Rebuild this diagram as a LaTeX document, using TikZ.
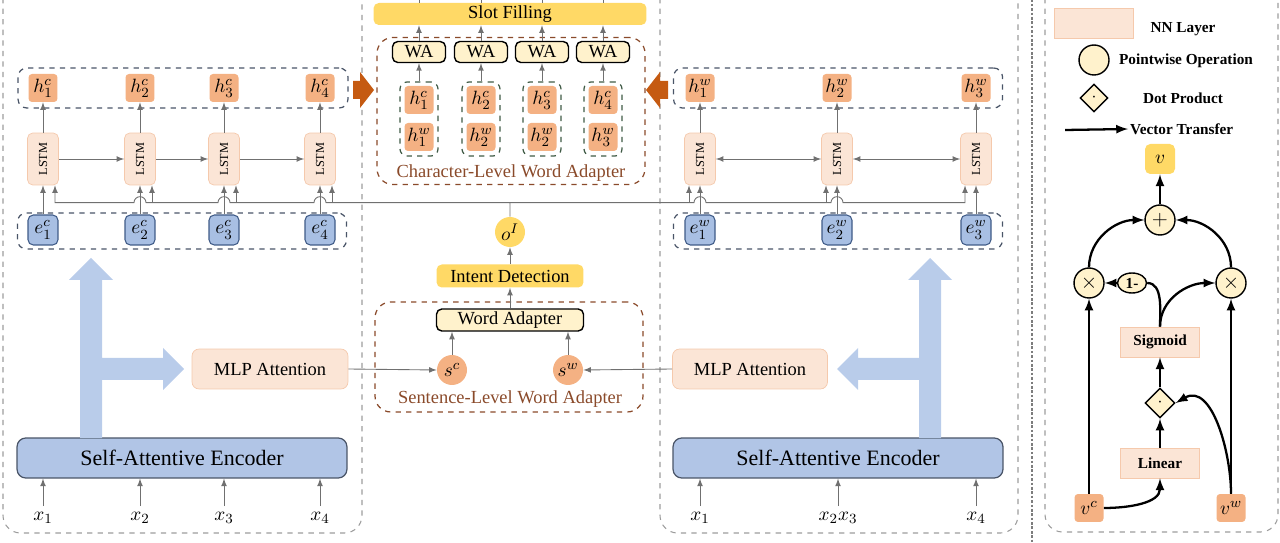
\documentclass[tikz,border=0pt]{standalone}
\usepackage{fontspec}
\setmainfont{Liberation Serif}
\usepackage{amsmath}
\usepackage{graphicx}
\usepackage{tikz}
\usetikzlibrary{calc}
\usetikzlibrary{arrows}
\usetikzlibrary{shapes}
\usetikzlibrary{shapes.geometric}

\definecolor{hfill}{HTML}{F4B183}
\definecolor{nnfill}{HTML}{FBE5D6}
\definecolor{nnline}{HTML}{F5C9AC}
\definecolor{efill}{HTML}{A8BFE3}
\definecolor{eline}{HTML}{3F5B87}
\definecolor{encfill}{HTML}{B1C5E6}
\definecolor{bigblue}{HTML}{B9CCEA}
\definecolor{gold}{HTML}{FFD966}
\definecolor{cream}{HTML}{FFF2CC}
\definecolor{rust}{HTML}{C55A11}
\definecolor{adbrown}{HTML}{8A4A2A}
\definecolor{slate}{HTML}{4A5568}
\definecolor{moss}{HTML}{3F5A45}
\definecolor{panel}{HTML}{9C9C9C}
\definecolor{wire}{HTML}{707070}

\newcommand{\txtfont}{\fontsize{10.5}{12}\selectfont}
\newcommand{\encfont}{\fontsize{12.5}{14}\selectfont}
\newcommand{\lgfont}{\bfseries\fontsize{8.7}{10}\selectfont}
\newcommand{\lstmfont}{\fontsize{7}{7}\selectfont}
\newcommand{\symfont}{\fontsize{11}{11}\selectfont}

\tikzset{
  hbox/.style={rectangle, rounded corners=2pt, fill=hfill, inner sep=0pt,
    minimum width=0.58cm, minimum height=0.56cm, font=\symfont},
  ebox/.style={rectangle, rounded corners=3pt, fill=efill, draw=eline, line width=0.6pt,
    inner sep=0pt, minimum width=0.6cm, minimum height=0.6cm, font=\symfont},
  lstm/.style={rectangle, rounded corners=3pt, fill=nnfill, draw=nnline, inner sep=0pt,
    minimum width=0.62cm, minimum height=1.04cm},
  nnbox/.style={rectangle, rounded corners=4pt, fill=nnfill, draw=nnline, inner sep=0pt},
  goldbox/.style={rectangle, rounded corners=3pt, fill=gold, inner sep=0pt},
  wabox/.style={rectangle, rounded corners=3pt, fill=cream, draw=black, line width=0.8pt,
    inner sep=0pt, font=\txtfont},
  encbox/.style={rectangle, rounded corners=5pt, fill=encfill, draw=slate, line width=0.7pt,
    minimum width=6.6cm, minimum height=0.8cm, font=\encfont},
  rowbox/.style={rectangle, rounded corners=5pt, dashed, draw=slate, line width=0.7pt},
  grp/.style={rectangle, rounded corners=4pt, dashed, draw=moss, line width=0.7pt,
    minimum width=0.76cm, minimum height=1.48cm},
  adbox/.style={rectangle, rounded corners=9pt, dashed, draw=adbrown, line width=0.7pt},
  opcircle/.style={circle, fill=cream, draw=black, line width=0.8pt, inner sep=0pt,
    minimum size=0.6cm},
  dotdiamond/.style={diamond, aspect=1, fill=cream, draw=black, line width=0.8pt,
    inner sep=0pt, minimum width=0.6cm, minimum height=0.6cm},
  lgtext/.style={font=\lgfont, inner sep=1pt},
  wireline/.style={draw=wire, line width=0.5pt},
  gatearrow/.style={-latex, line width=1.3pt},
}

\begin{document}
\begin{tikzpicture}[x=0.02cm, y=-0.02cm]
\useasboundingbox (0,0) rectangle (1280,543);

% panels
\draw [panel, dashed, line width=0.6pt, rounded corners=10pt] (3,-30) rectangle (362,533);
\draw [panel, dashed, line width=0.6pt, rounded corners=10pt] (660,-30) rectangle (1018,533);
\draw [panel, dashed, line width=0.6pt, rounded corners=10pt] (1045,-30) rectangle (1278,532);
\draw [panel!80!black, densely dotted, line width=1.5pt] (1032,-5) -- (1032,548);

% character side
\node [rowbox, minimum width=6.6cm, minimum height=0.8cm] (hcrow) at (183,88) {};
\node [rowbox, minimum width=6.58cm, minimum height=0.72cm] (ecrow) at (182,231) {};
\node [hbox] (hc1) at (43,88) {$h^{c}_{1}$};
\node [hbox] (hc2) at (140,88) {$h^{c}_{2}$};
\node [hbox] (hc3) at (224,88) {$h^{c}_{3}$};
\node [hbox] (hc4) at (320,88) {$h^{c}_{4}$};
\node [lstm] (lc1) at (43,159) {\rotatebox{90}{\lstmfont LSTM}};
\node [lstm] (lc2) at (140,159) {\rotatebox{90}{\lstmfont LSTM}};
\node [lstm] (lc3) at (224,159) {\rotatebox{90}{\lstmfont LSTM}};
\node [lstm] (lc4) at (320,159) {\rotatebox{90}{\lstmfont LSTM}};
\node [ebox] (ec1) at (43,230) {$e^{c}_{1}$};
\node [ebox] (ec2) at (140,230) {$e^{c}_{2}$};
\node [ebox] (ec3) at (224,230) {$e^{c}_{3}$};
\node [ebox] (ec4) at (320,230) {$e^{c}_{4}$};
\node [nnbox, minimum width=3.12cm, minimum height=0.8cm, font=\txtfont] (mlpc) at (270,369) {MLP Attention};
\node [encbox] (encc) at (182,458) {Self-Attentive Encoder};
\node [font=\symfont] (xc1) at (43,518) {$x_{1}$};
\node [font=\symfont] (xc2) at (140,518) {$x_{2}$};
\node [font=\symfont] (xc3) at (224,518) {$x_{3}$};
\node [font=\symfont] (xc4) at (320,518) {$x_{4}$};
\fill [bigblue] (80,438) -- (80,280) -- (69,280) -- (91,258) -- (113,280) -- (102,280)
  -- (102,358) -- (163,358) -- (163,348) -- (184,369) -- (163,390) -- (163,380)
  -- (102,380) -- (102,438) -- cycle;
\fill [rust] (353,81) -- (360,81) -- (360,72) -- (374,90) -- (360,108) -- (360,99) -- (353,99) -- cycle;

% word side
\node [rowbox, minimum width=6.58cm, minimum height=0.8cm] (hwrow) at (838,88) {};
\node [rowbox, minimum width=6.58cm, minimum height=0.72cm] (ewrow) at (838,231) {};
\node [hbox] (hw1) at (700,88) {$h^{w}_{1}$};
\node [hbox] (hw2) at (837,88) {$h^{w}_{2}$};
\node [hbox] (hw3) at (976,88) {$h^{w}_{3}$};
\node [lstm] (lw1) at (700,159) {\rotatebox{90}{\lstmfont LSTM}};
\node [lstm] (lw2) at (837,159) {\rotatebox{90}{\lstmfont LSTM}};
\node [lstm] (lw3) at (976,159) {\rotatebox{90}{\lstmfont LSTM}};
\node [ebox] (ew1) at (700,230) {$e^{w}_{1}$};
\node [ebox] (ew2) at (837,230) {$e^{w}_{2}$};
\node [ebox] (ew3) at (976,230) {$e^{w}_{3}$};
\node [nnbox, minimum width=3.1cm, minimum height=0.8cm, font=\txtfont] (mlpw) at (750,369) {MLP Attention};
\node [encbox] (encw) at (838,458) {Self-Attentive Encoder};
\node [font=\symfont] (xw1) at (700,518) {$x_{1}$};
\node [font=\symfont] (xw23) at (838,518) {$x_{2}x_{3}$};
\node [font=\symfont] (xw4) at (976,518) {$x_{4}$};
\fill [bigblue] (941,438) -- (941,280) -- (952,280) -- (930,258) -- (908,280) -- (919,280)
  -- (919,358) -- (858,358) -- (858,348) -- (837,369) -- (858,390) -- (858,380)
  -- (919,380) -- (919,438) -- cycle;
\fill [rust] (668,81) -- (660,81) -- (660,72) -- (646,90) -- (660,108) -- (660,99) -- (668,99) -- cycle;

% middle: slot filling
\node [adbox, minimum width=5.36cm, minimum height=2.94cm] (clwa) at (511,111) {};
\node [font=\txtfont, text=adbrown] (clwatext) at (511,173) {Character-Level Word Adapter};
\node [goldbox, minimum width=5.46cm, minimum height=0.44cm, font=\txtfont] (slot) at (510,14) {Slot Filling};
\node [wabox, minimum width=1.06cm, minimum height=0.42cm] (wa1) at (419,52) {WA};
\node [wabox, minimum width=1.06cm, minimum height=0.42cm] (wa2) at (481,52) {WA};
\node [wabox, minimum width=1.06cm, minimum height=0.42cm] (wa3) at (542,52) {WA};
\node [wabox, minimum width=1.06cm, minimum height=0.42cm] (wa4) at (603,52) {WA};
\node [grp] (g1) at (419,119) {};
\node [grp] (g2) at (481,119) {};
\node [grp] (g3) at (542,119) {};
\node [grp] (g4) at (603,119) {};
\node [hbox] (ahc1) at (419,100) {$h^{c}_{1}$};
\node [hbox] (ahw1) at (419,137) {$h^{w}_{1}$};
\node [hbox] (ahc2) at (481,100) {$h^{c}_{2}$};
\node [hbox] (ahw2) at (481,137) {$h^{w}_{2}$};
\node [hbox] (ahc3) at (542,100) {$h^{c}_{3}$};
\node [hbox] (ahw3) at (542,137) {$h^{w}_{2}$};
\node [hbox] (ahc4) at (603,100) {$h^{c}_{4}$};
\node [hbox] (ahw4) at (603,137) {$h^{w}_{3}$};

% middle: intent detection
\node [adbox, minimum width=5.36cm, minimum height=2.2cm] (slwa) at (509,357) {};
\node [font=\txtfont, text=adbrown] (slwatext) at (510,399) {Sentence-Level Word Adapter};
\node [circle, fill=gold, inner sep=0pt, minimum size=0.6cm, font=\symfont] (oI) at (510,232) {$o^{I}$};
\node [goldbox, minimum width=2.94cm, minimum height=0.46cm, font=\txtfont] (intent) at (510,276) {Intent Detection};
\node [wabox, minimum width=2.94cm, minimum height=0.44cm] (wadp) at (510,320) {Word Adapter};
\node [circle, fill=hfill, inner sep=0pt, minimum size=0.6cm, font=\symfont] (sc) at (452,370) {$s^{c}$};
\node [circle, fill=hfill, inner sep=0pt, minimum size=0.6cm, font=\symfont] (sw) at (568,370) {$s^{w}$};

% connectors, character side
\draw [wireline, -latex] (lc1.north) -- (hc1.south);
\draw [wireline, -latex] (lc2.north) -- (hc2.south);
\draw [wireline, -latex] (lc3.north) -- (hc3.south);
\draw [wireline, -latex] (lc4.north) -- (hc4.south);
\draw [wireline, -latex] (lc1.east) -- (lc2.west);
\draw [wireline, -latex] (lc2.east) -- (lc3.west);
\draw [wireline, -latex] (lc3.east) -- (lc4.west);
\draw [wireline, -latex] (ec1.north) -- (lc1.south);
\draw [wireline, -latex] (ec2.north) -- (lc2.south);
\draw [wireline, -latex] (ec3.north) -- (lc3.south);
\draw [wireline, -latex] (ec4.north) -- (lc4.south);
\draw [wireline, -latex] (xc1.north) -- (xc1.north |- encc.south);
\draw [wireline, -latex] (xc2.north) -- (xc2.north |- encc.south);
\draw [wireline, -latex] (xc3.north) -- (xc3.north |- encc.south);
\draw [wireline, -latex] (xc4.north) -- (xc4.north |- encc.south);
\draw [wireline, -latex] (mlpc.east) -- (sc.west);

% connectors, word side
\draw [wireline, -latex] (lw1.north) -- (hw1.south);
\draw [wireline, -latex] (lw2.north) -- (hw2.south);
\draw [wireline, -latex] (lw3.north) -- (hw3.south);
\draw [wireline, latex-latex] (lw1.east) -- (lw2.west);
\draw [wireline, latex-latex] (lw2.east) -- (lw3.west);
\draw [wireline, -latex] (ew1.north) -- (lw1.south);
\draw [wireline, -latex] (ew2.north) -- (lw2.south);
\draw [wireline, -latex] (ew3.north) -- (lw3.south);
\draw [wireline, -latex] (xw1.north) -- (xw1.north |- encw.south);
\draw [wireline, -latex] (xw23.north) -- (xw23.north |- encw.south);
\draw [wireline, -latex] (xw4.north) -- (xw4.north |- encw.south);
\draw [wireline, -latex] (mlpw.west) -- (sw.east);

% intent fed back to both LSTM rows
\coordinate (bus) at ($(oI.north)+(0,-14)$);
\draw [wireline, -latex] (oI.north) -- (bus)
  -- ($(lc4.south |- bus)+(6,0)$) arc [start angle=0, end angle=180, radius=0.12cm]
  -- ($(lc3.south |- bus)+(6,0)$) arc [start angle=0, end angle=180, radius=0.12cm]
  -- ($(lc2.south |- bus)+(6,0)$) arc [start angle=0, end angle=180, radius=0.12cm]
  -- ($(lc1.south |- bus)+(12,0)$) -- ($(lc1.south)+(12,0)$);
\draw [wireline, -latex] (bus)
  -- ($(lw1.south |- bus)+(-6,0)$) arc [start angle=180, end angle=0, radius=0.12cm]
  -- ($(lw2.south |- bus)+(-6,0)$) arc [start angle=180, end angle=0, radius=0.12cm]
  -- ($(lw3.south |- bus)+(-11,0)$) -- ($(lw3.south)+(-11,0)$);
\draw [wireline, -latex] ($(lc2.south |- bus)+(12,0)$) -- ($(lc2.south)+(12,0)$);
\draw [wireline, -latex] ($(lc3.south |- bus)+(12,0)$) -- ($(lc3.south)+(12,0)$);
\draw [wireline, -latex] ($(lc4.south |- bus)+(12,0)$) -- ($(lc4.south)+(12,0)$);
\draw [wireline, -latex] ($(lw1.south |- bus)+(-11,0)$) -- ($(lw1.south)+(-11,0)$);
\draw [wireline, -latex] ($(lw2.south |- bus)+(-11,0)$) -- ($(lw2.south)+(-11,0)$);

% connectors, middle
\draw [wireline, -latex] (g1.north) -- (wa1.south);
\draw [wireline, -latex] (g2.north) -- (wa2.south);
\draw [wireline, -latex] (g3.north) -- (wa3.south);
\draw [wireline, -latex] (g4.north) -- (wa4.south);
\draw [wireline, -latex] (wa1.north) -- (wa1.north |- slot.south);
\draw [wireline, -latex] (wa2.north) -- (wa2.north |- slot.south);
\draw [wireline, -latex] (wa3.north) -- (wa3.north |- slot.south);
\draw [wireline, -latex] (wa4.north) -- (wa4.north |- slot.south);
\draw [wireline] (slot.north -| wa1) -- ++(0,-20);
\draw [wireline] (slot.north -| wa2) -- ++(0,-20);
\draw [wireline] (slot.north -| wa3) -- ++(0,-20);
\draw [wireline] (slot.north -| wa4) -- ++(0,-20);
\draw [wireline, -latex] (sc.north) -- (sc.north |- wadp.south);
\draw [wireline, -latex] (sw.north) -- (sw.north |- wadp.south);
\draw [wireline, -latex] (wadp.north) -- (intent.south);
\draw [wireline, -latex] (intent.north) -- (oI.south);

% legend
\node [nnbox, rounded corners=0pt, minimum width=1.58cm, minimum height=0.6cm] (lgnnbox) at (1094,23) {};
\node [lgtext] (lgnn) at (1183,29) {NN Layer};
\node [opcircle] (lgcirc) at (1094,60) {};
\node [lgtext] (lgpw) at (1186,61) {Pointwise Operation};
\node [dotdiamond, minimum width=0.56cm, minimum height=0.56cm] (lgdia) at (1094,98) {$\cdot$};
\node [lgtext] (lgdot) at (1183,98) {Dot Product};
\coordinate (lgarr) at (1065,130);
\node [lgtext, anchor=west] (lgvec) at (1128,129) {Vector Transfer};
\draw [gatearrow] (lgarr) -- (lgvec.west);

% gate
\node [goldbox, minimum size=0.6cm, font=\symfont] (v) at (1160,159) {$v$};
\node [opcircle, font=\large] (plus) at (1160,220) {$+$};
\node [opcircle, font=\large] (xl) at (1089,283) {$\times$};
\node [opcircle, font=\large] (xr) at (1231,283) {$\times$};
\node [ellipse, fill=cream, draw=black, line width=0.8pt, minimum width=0.58cm, minimum height=0.4cm,
  inner sep=0pt, font=\lgfont] (onem) at (1132,283) {1-};
\node [nnbox, rounded corners=0pt, minimum width=1.58cm, minimum height=0.6cm, font=\lgfont] (sigm) at (1160,342) {Sigmoid};
\node [dotdiamond] (dotp) at (1160,403) {$\cdot$};
\node [nnbox, rounded corners=0pt, minimum width=1.58cm, minimum height=0.6cm, font=\lgfont] (lin) at (1160,463) {Linear};
\node [hbox] (vc) at (1089,508) {$v^{c}$};
\node [hbox] (vw) at (1231,508) {$v^{w}$};
\draw [gatearrow] (vc.north) -- (xl.south);
\draw [gatearrow] (vw.north) -- (xr.south);
\draw [gatearrow] (vc.east) to [out=0, in=-90] (lin.south);
\draw [gatearrow] (vw.north) to [out=90, in=30] (dotp.east);
\draw [gatearrow] (lin.north) -- (dotp.south);
\draw [gatearrow] (dotp.north) -- (sigm.south);
\draw [gatearrow] (sigm.north) to [out=90, in=180] (xr.west);
\draw [line width=1.3pt] (sigm.north) to [out=90, in=0, looseness=0.9] (onem.east);
\draw [gatearrow] (onem.west) -- (xl.east);
\draw [gatearrow] (xl.north) to [out=90, in=180] (plus.west);
\draw [gatearrow] (xr.north) to [out=90, in=0] (plus.east);
\draw [gatearrow] (plus.north) -- (v.south);
\end{tikzpicture}
\end{document}
